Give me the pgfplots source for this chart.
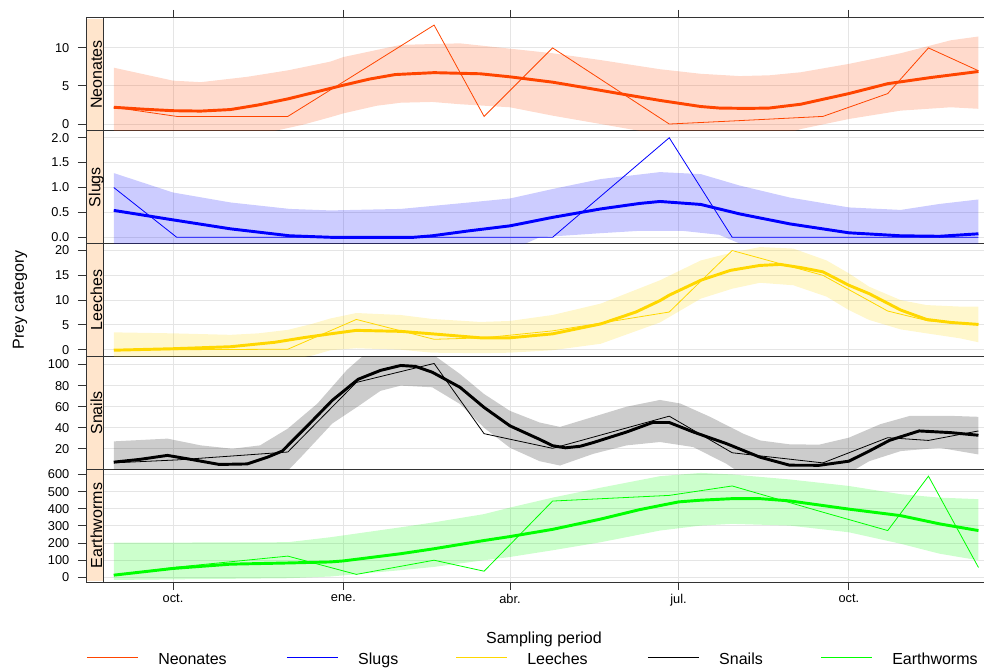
\documentclass[border=0pt]{standalone}
\usepackage{fontspec}
\setmainfont{Liberation Sans}
\usepackage{pgfplots}
\pgfplotsset{compat=1.18}
\usepgfplotslibrary{fillbetween}

\definecolor{neon}{HTML}{FF4500}
\definecolor{slug}{HTML}{0000FF}
\definecolor{leech}{HTML}{FFD700}
\definecolor{snail}{HTML}{000000}
\definecolor{worm}{HTML}{00FF00}
\definecolor{stripbg}{HTML}{FFE5CC}

\newcommand{\strip}[1]{%
 \fill[stripbg] ([xshift=0.4pt,yshift=0.4pt]rel axis cs:0,0) rectangle ([yshift=-0.4pt]rel axis cs:0.02004,1);
 \draw[black!80,line width=0.75pt] (rel axis cs:0.02004,0) -- (rel axis cs:0.02004,1);
 \node[rotate=90,font=\fontsize{12}{14}\selectfont,inner sep=0pt] at (rel axis cs:0.0115,0.5) {#1};}
\newcommand{\legline}[2]{%
 \draw[#1, line width=0.75pt] (axis description cs:#2,-0.6649) -- ([xshift=38.25pt]axis description cs:#2,-0.6649);}
\newcommand{\legtext}[2]{%
 \node[anchor=base west, inner sep=0pt, text=black, font=\fontsize{12}{14}\selectfont] at ([xshift=53.25pt]axis description cs:#1,-0.727) {#2};}

\pgfplotsset{
 panel/.style={
  scale only axis, width=673.5pt, height=84.6pt,
  xmin=-47, xmax=438,
  xtick={0,92,182,273,365},
  xmajorgrids, ymajorgrids,
  grid style={draw=black!10, line width=0.75pt},
  tick align=outside, major tick length=6pt,
  ytick pos=left,
  tick style={black!80, line width=0.75pt},
  axis line style={black!80, line width=0.75pt},
  ticklabel style={font=\fontsize{9.6}{11}\selectfont},
  yticklabel style={xshift=-3pt},
  /pgf/number format/assume math mode=true,
 },
 thin/.style={line width=0.6pt},
 thick/.style={line width=2.2pt},
 band/.style={fill opacity=0.2, draw=none, forget plot},
}

\begin{document}
\begin{tikzpicture}
% ---------------- Neonates
\begin{axis}[panel, at={(64.5pt,488.25pt)}, anchor=north west,
 ymin=-0.89, ymax=13.93, ytick={0,5,10}, yticklabels={0,5,10},
 xtick pos=right, xticklabels={}]
\addplot[draw=none, name path=u1, forget plot] coordinates {(-32,7.4)(0,5.7)(15,5.5)(40,6.2)(62,7.05)(85,8.2)(92,8.8)(123,10.4)(155,10.6)(182,9.9)(205,9.3)(231,8.4)(263,7.2)(285,6.6)(306,6.3)(322,6.4)(339,6.8)(365,7.9)(393,9.3)(420,11.0)(435,11.5)};
\addplot[draw=none, name path=l1, forget plot] coordinates {(-32,-3)(0,-2.5)(31,-1.5)(55,-0.9)(70,-0.1)(85,0.9)(92,1.4)(110,2.4)(123,2.8)(140,2.9)(155,2.6)(182,2.2)(205,1.1)(231,0)(252,-0.9)(285,-2)(322,-2)(339,-0.66)(365,0.66)(393,1.76)(420,2.2)(435,2.0)};
\addplot[band, fill=neon] fill between[of=u1 and l1];
\addplot[neon, thin] coordinates {(-32,2.2)(2,1)(62,1)(99,6.6)(141,13)(168,1)(205,10)(268,0)(302,0.4)(351,1)(386,4)(408,10)(435,7)};
\addplot[neon, thick] coordinates {(-32,2.2)(-16,1.95)(0,1.75)(15,1.7)(31,1.9)(46,2.5)(62,3.3)(77,4.2)(92,5.1)(106,5.9)(120,6.5)(141,6.75)(166,6.6)(182,6.2)(205,5.5)(222,4.8)(241,4.0)(263,3.1)(285,2.3)(295,2.1)(310,2.05)(322,2.1)(339,2.6)(352,3.3)(365,4.0)(386,5.3)(409,6.1)(435,6.9)};
\strip{Neonates}
\end{axis}
% ---------------- Slugs
\begin{axis}[panel, at={(64.5pt,403.65pt)}, anchor=north west,
 ymin=-0.127, ymax=2.14, ytick={0,0.5,1,1.5,2}, yticklabels={0.0,0.5,1.0,1.5,2.0},
 xticklabels={}, xtick style={draw=none}]
\addplot[draw=none, name path=u2, forget plot] coordinates {(-32,1.29)(0,0.9)(31,0.7)(63,0.57)(85,0.54)(123,0.57)(160,0.7)(182,0.78)(205,0.97)(231,1.17)(263,1.31)(285,1.27)(306,1.04)(333,0.8)(365,0.6)(393,0.55)(414,0.67)(435,0.76)};
\addplot[draw=none, name path=l2, forget plot] coordinates {(-32,-0.3)(180,-0.3)(198,0.0)(230,0.08)(252,0.13)(275,0.13)(295,0.05)(317,-0.3)(435,-0.3)};
\addplot[band, fill=slug] fill between[of=u2 and l2];
\addplot[slug, thin] coordinates {(-32,1)(2,0)(62,0)(99,0)(141,0)(168,0)(205,0)(268,2)(302,0)(351,0)(386,0)(408,0)(435,0)};
\addplot[slug, thick] coordinates {(-32,0.54)(0,0.35)(31,0.17)(63,0.03)(85,0)(130,0)(140,0.03)(160,0.13)(182,0.23)(205,0.4)(231,0.57)(252,0.68)(263,0.72)(285,0.66)(306,0.47)(333,0.27)(365,0.09)(393,0.03)(414,0.02)(435,0.07)};
\strip{Slugs}
\end{axis}
% ---------------- Leeches
\begin{axis}[panel, at={(64.5pt,319.05pt)}, anchor=north west,
 ymin=-1.35, ymax=21.4, ytick={0,5,10,15,20}, yticklabels={0,5,10,15,20},
 xticklabels={}, xtick style={draw=none},
 ylabel={Prey category},
 ylabel style={at={(axis description cs:-0.0735,0.5)}, anchor=center, font=\fontsize{12}{14}\selectfont}]
\addplot[draw=none, name path=u3, forget plot] coordinates {(-32,3.5)(0,3.3)(31,3.0)(46,3.3)(62,4.0)(75,5.2)(85,6.3)(99,7.4)(123,7.0)(140,6.2)(166,5.6)(182,5.8)(205,7.0)(231,9.3)(263,14.0)(285,18)(302,19.6)(317,20.7)(335,20.4)(353,18.0)(365,15.4)(376,12.7)(393,10.0)(407,9.0)(425,8.7)(435,8.7)};
\addplot[draw=none, name path=l3, forget plot] coordinates {(-32,-2)(62,-2)(75,-1.2)(85,-0.1)(99,0.3)(123,0)(140,-0.6)(166,-0.7)(182,-0.6)(205,-0.1)(231,1.2)(263,5.5)(285,10.3)(302,12.3)(317,13.5)(335,13.0)(353,10.7)(365,8.0)(376,6.0)(393,4.1)(407,3.3)(425,2.3)(435,1.5)};
\addplot[band, fill=leech] fill between[of=u3 and l3];
\addplot[leech, thin] coordinates {(-32,0)(2,0)(62,0.1)(99,6.1)(141,2.1)(168,2.4)(205,3.8)(268,7.6)(302,20)(351,15)(386,7.8)(408,5.8)(435,5.1)};
\addplot[leech, thick] coordinates {(-32,-0.1)(0,0.2)(31,0.6)(55,1.5)(70,2.4)(85,3.2)(99,3.9)(123,3.7)(140,3.2)(166,2.4)(182,2.4)(205,3.2)(231,5.2)(250,7.6)(263,9.9)(268,11.0)(285,14.0)(301,16.0)(317,17.0)(328,17.2)(340,16.5)(351,15.7)(365,13.0)(376,11.3)(393,8.0)(407,6.1)(420,5.5)(435,5.1)};
\strip{Leeches}
\end{axis}
% ---------------- Snails
\begin{axis}[panel, at={(64.5pt,234.45pt)}, anchor=north west,
 ymin=0.7, ymax=107.7, ytick={20,40,60,80,100}, yticklabels={20,40,60,80,100},
 xticklabels={}, xtick style={draw=none}]
\addplot[draw=none, name path=u4, forget plot] coordinates {(-32,27.1)(-3,29.7)(15,23.3)(32,20.1)(47,23.3)(62,39.2)(78,63)(94,95)(105,112)(131,118)(140,110)(155,91)(168,72)(182,56)(198,45)(209,40.8)(227,50.4)(245,60)(263,66.4)(274,63)(290,50.4)(308,34.4)(317,28)(333,24.3)(349,24)(365,30.6)(382,43.4)(398,51.3)(420,51.3)(435,50.4)};
\addplot[draw=none, name path=l4, forget plot] coordinates {(-32,-8)(58,-8)(69,12)(86,44)(101,61.6)(112,75)(123,80)(140,78.4)(155,62.5)(168,40)(182,21)(198,8.3)(209,4.2)(227,15.3)(245,23.3)(263,26.5)(281,21.7)(299,5.7)(308,-5)(317,-12)(349,-12)(365,-3)(376,8.3)(393,17.9)(414,21)(435,14.7)};
\addplot[band, fill=snail] fill between[of=u4 and l4];
\addplot[snail, thin] coordinates {(-32,6.7)(2,9.5)(62,17)(99,83)(141,101)(168,34.4)(205,20.5)(268,51)(302,16.3)(351,6.7)(386,30.6)(408,28)(435,37)};
\addplot[snail, thick] coordinates {(-32,7.4)(-18,10)(-3,13.8)(11,9.6)(25,5.2)(40,5.7)(51,12.1)(59,17.9)(72,40.8)(86,66)(100,86)(112,94.4)(123,99.1)(131,98.2)(140,92.7)(155,78.4)(168,59.3)(182,41.8)(198,29)(205,23)(212,21)(220,22.5)(227,26)(245,36)(259,45)(268,45)(281,36)(299,24.9)(317,12.1)(333,4.5)(349,4.4)(365,8.3)(376,17.9)(387,28.1)(403,37)(420,35.4)(435,32.9)};
\strip{Snails}
\end{axis}
% ---------------- Earthworms
\begin{axis}[panel, at={(64.5pt,149.85pt)}, anchor=north west,
 clip mode=individual,
 ymin=-27, ymax=630.7, ytick={0,100,...,600}, yticklabels={0,100,200,300,400,500,600},
 xtick pos=left, xticklabels={oct.,ene.,abr.,jul.,oct.},
 xlabel={Sampling period},
 xlabel style={at={(axis description cs:0.51,-0.543)}, anchor=base, font=\fontsize{12}{14}\selectfont},
 after end axis/.code={%
   \legtext{0.0011}{Neonates}
   \legtext{0.2238}{Slugs}
   \legtext{0.4120}{Leeches}
   \legtext{0.6258}{Snails}
   \legtext{0.8185}{Earthworms}}]
\addplot[draw=none, name path=u5, forget plot] coordinates {(-32,202)(62,205)(85,234)(123,292)(141,321)(168,369)(182,407)(205,465)(231,523)(263,590)(285,609)(302,600)(333,571)(365,533)(393,485)(414,465)(435,456)};
\addplot[draw=none, name path=l5, forget plot] coordinates {(-32,-15)(62,-5)(85,5)(123,42)(141,61)(168,100)(182,119)(205,158)(231,205)(263,273)(285,302)(302,312)(333,302)(365,263)(393,196)(414,138)(435,100)};
\addplot[band, fill=worm] fill between[of=u5 and l5];
\addplot[worm, thin] coordinates {(-32,13)(2,60)(62,124)(99,17.5)(141,100)(168,36)(205,445)(268,478)(302,533)(351,380)(386,273)(408,590)(435,58)};
\addplot[worm, thick] coordinates {(-32,13)(0,52)(31,77)(62,84)(85,90)(92,96)(123,138)(141,167)(168,215)(182,238)(205,280)(231,340)(252,395)(273,440)(285,450)(302,459)(317,459)(333,446)(365,398)(393,360)(414,312)(435,273)};
\strip{Earthworms}
\legline{neon}{0.0011}
\legline{slug}{0.2238}
\legline{leech}{0.4120}
\legline{snail}{0.6258}
\legline{worm}{0.8185}
\end{axis}
\pgfresetboundingbox
\path[use as bounding box] (0,0) rectangle (738pt,501.75pt);
\end{tikzpicture}
\end{document}
